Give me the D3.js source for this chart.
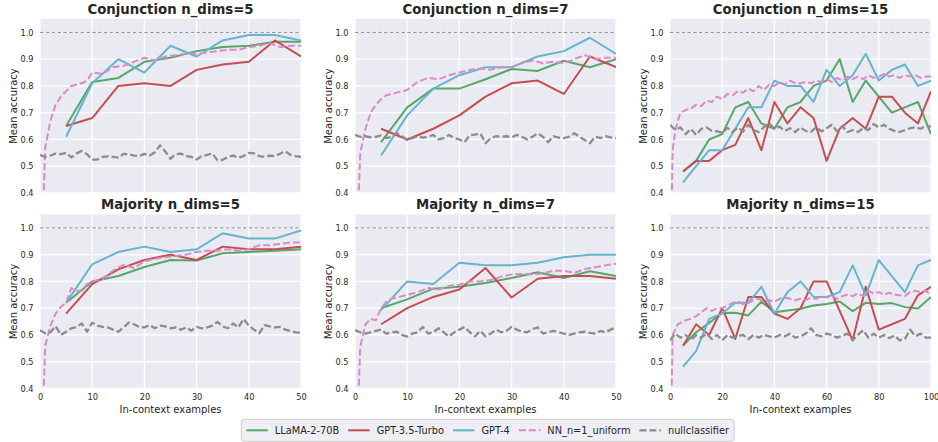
<!DOCTYPE html>
<html>
<head>
<meta charset="utf-8">
<script src="https://cdn.jsdelivr.net/npm/d3@7"></script>
<style>
body { margin: 0; background: #fff; }
text { font-family: "DejaVu Sans", sans-serif; fill: #262626; }
</style>
</head>
<body>
<svg id="chart" width="938" height="442"></svg>
<script>
//## x positions (number of in-context examples)
var shotsX50 = [5, 10, 15, 20, 25, 30, 35, 40, 45, 50];
var shotsX100 = [5, 10, 15, 20, 25, 30, 35, 40, 45, 50, 55, 60, 65, 70, 75, 80, 85, 90, 95, 100];
var nnX50 = [0, 1, 2, 3, 4, 5, 6, 7, 8, 9, 10, 12, 14, 16, 18, 20, 22, 24, 26, 28, 30, 32, 34, 36, 38, 40, 42, 44, 46, 48, 50];
var nnX100 = [0, 1, 2, 3, 4, 6, 8, 10, 12, 14, 16, 18, 20, 22, 24, 26, 28, 30, 32, 34, 36, 38, 40, 42, 44, 46, 48, 50,
    52, 54, 56, 58, 60, 62, 64, 66, 68, 70, 72, 74, 76, 78, 80, 82, 84, 86, 88, 90, 92, 94, 96, 98, 100];
var nullX50 = d3.range(0, 51, 1);
var nullX100 = d3.range(0, 101, 2);

var xTicks50 = [0, 10, 20, 30, 40, 50];
var xTicks100 = [0, 20, 40, 60, 80, 100];
var yTicks = [0.4, 0.5, 0.6, 0.7, 0.8, 0.9, 1.0];

//## Conjunction n_dims=5
var conj5_llama = [0.65, 0.815, 0.83, 0.89, 0.905, 0.93, 0.945, 0.95, 0.965, 0.965];
var conj5_gpt35 = [0.65, 0.68, 0.80, 0.81, 0.80, 0.86, 0.88, 0.89, 0.97, 0.91];
var conj5_gpt4 = [0.61, 0.81, 0.90, 0.85, 0.95, 0.91, 0.97, 0.99, 0.99, 0.97];
var conj5_nn = [0.0, 0.57, 0.67, 0.73, 0.76, 0.78, 0.80, 0.805, 0.81, 0.82, 0.85, 0.845, 0.87, 0.875, 0.89, 0.905,
    0.895, 0.91, 0.915, 0.92, 0.92, 0.925, 0.93, 0.935, 0.935, 0.945, 0.95, 0.96, 0.945, 0.95, 0.95];
var conj5_null = [0.542, 0.535, 0.54, 0.547, 0.545, 0.55, 0.533, 0.548, 0.557, 0.545, 0.525, 0.525, 0.535, 0.537,
    0.535, 0.532, 0.546, 0.545, 0.54, 0.538, 0.546, 0.54, 0.552, 0.578, 0.555, 0.528, 0.545, 0.547, 0.538, 0.535,
    0.525, 0.538, 0.542, 0.548, 0.522, 0.524, 0.535, 0.54, 0.532, 0.538, 0.55, 0.548, 0.538, 0.535, 0.54, 0.537,
    0.547, 0.556, 0.542, 0.538, 0.535];

//## Conjunction n_dims=7
var conj7_llama = [0.59, 0.72, 0.79, 0.79, 0.825, 0.863, 0.856, 0.894, 0.87, 0.90];
var conj7_gpt35 = [0.64, 0.60, 0.64, 0.69, 0.76, 0.81, 0.82, 0.77, 0.91, 0.87];
var conj7_gpt4 = [0.54, 0.69, 0.79, 0.84, 0.87, 0.87, 0.91, 0.93, 0.98, 0.92];
var conj7_nn = [0.0, 0.55, 0.64, 0.70, 0.73, 0.75, 0.765, 0.77, 0.775, 0.78, 0.785, 0.815, 0.83, 0.825, 0.84, 0.85,
    0.86, 0.865, 0.86, 0.87, 0.87, 0.885, 0.895, 0.885, 0.89, 0.885, 0.90, 0.915, 0.90, 0.905, 0.905];
var conj7_null = [0.617, 0.61, 0.612, 0.608, 0.61, 0.615, 0.605, 0.61, 0.623, 0.612, 0.598, 0.605, 0.612, 0.607,
    0.61, 0.617, 0.60, 0.605, 0.617, 0.605, 0.60, 0.59, 0.617, 0.618, 0.623, 0.586, 0.605, 0.612, 0.61, 0.612,
    0.608, 0.617, 0.61, 0.60, 0.61, 0.623, 0.61, 0.59, 0.612, 0.607, 0.605, 0.61, 0.623, 0.61, 0.598, 0.586,
    0.61, 0.605, 0.612, 0.608, 0.605];

//## Conjunction n_dims=15
var conj15_llama = [0.48, 0.52, 0.60, 0.62, 0.72, 0.74, 0.66, 0.64, 0.72, 0.74, 0.80, 0.82, 0.90, 0.74, 0.82,
    0.76, 0.70, 0.72, 0.74, 0.62];
var conj15_gpt35 = [0.48, 0.52, 0.52, 0.56, 0.58, 0.68, 0.56, 0.74, 0.66, 0.72, 0.68, 0.52, 0.64, 0.68, 0.64,
    0.76, 0.76, 0.70, 0.66, 0.78];
var conj15_gpt4 = [0.44, 0.50, 0.56, 0.56, 0.64, 0.72, 0.72, 0.82, 0.80, 0.80, 0.74, 0.86, 0.80, 0.84, 0.92,
    0.82, 0.86, 0.88, 0.80, 0.82];
var conj15_nn = [0.0, 0.56, 0.63, 0.67, 0.70, 0.71, 0.715, 0.73, 0.725, 0.745, 0.74, 0.76, 0.75, 0.77, 0.765, 0.78,
    0.775, 0.79, 0.78, 0.80, 0.785, 0.805, 0.80, 0.815, 0.805, 0.82, 0.81, 0.81, 0.815, 0.81, 0.82, 0.815, 0.825,
    0.815, 0.83, 0.82, 0.835, 0.825, 0.835, 0.825, 0.84, 0.83, 0.835, 0.845, 0.835, 0.84, 0.83, 0.84, 0.835, 0.84,
    0.83, 0.835, 0.835];
var conj15_null = [0.655, 0.636, 0.645, 0.62, 0.64, 0.617, 0.64, 0.645, 0.632, 0.63, 0.625, 0.643, 0.628, 0.645,
    0.63, 0.655, 0.635, 0.628, 0.646, 0.66, 0.64, 0.648, 0.632, 0.642, 0.628, 0.645, 0.632, 0.628, 0.646, 0.63,
    0.642, 0.655, 0.63, 0.65, 0.628, 0.635, 0.628, 0.642, 0.635, 0.658, 0.645, 0.655, 0.64, 0.632, 0.628, 0.635,
    0.642, 0.646, 0.64, 0.65, 0.648];

//## Majority n_dims=5
var maj5_llama = [0.72, 0.80, 0.82, 0.854, 0.88, 0.878, 0.905, 0.91, 0.915, 0.92];
var maj5_gpt35 = [0.68, 0.79, 0.845, 0.88, 0.90, 0.88, 0.93, 0.92, 0.92, 0.93];
var maj5_gpt4 = [0.72, 0.864, 0.91, 0.93, 0.91, 0.92, 0.98, 0.96, 0.96, 0.99];
var maj5_nn = [0.0, 0.56, 0.635, 0.68, 0.705, 0.72, 0.775, 0.765, 0.765, 0.79, 0.80, 0.81, 0.84, 0.862, 0.85,
    0.875, 0.885, 0.89, 0.895, 0.90, 0.91, 0.915, 0.915, 0.92, 0.915, 0.92, 0.935, 0.935, 0.94, 0.946, 0.945];
var maj5_null = [0.618, 0.606, 0.61, 0.633, 0.60, 0.612, 0.625, 0.63, 0.643, 0.612, 0.646, 0.635, 0.63, 0.628,
    0.62, 0.612, 0.628, 0.646, 0.64, 0.63, 0.628, 0.637, 0.625, 0.635, 0.632, 0.625, 0.628, 0.62, 0.628, 0.616,
    0.63, 0.625, 0.628, 0.635, 0.649, 0.632, 0.625, 0.643, 0.628, 0.66, 0.635, 0.62, 0.606, 0.637, 0.632, 0.628,
    0.63, 0.62, 0.615, 0.61, 0.608];

//## Majority n_dims=7
var maj7_llama = [0.70, 0.733, 0.773, 0.78, 0.794, 0.813, 0.834, 0.813, 0.838, 0.82];
var maj7_gpt35 = [0.64, 0.70, 0.742, 0.77, 0.85, 0.74, 0.81, 0.82, 0.82, 0.81];
var maj7_gpt4 = [0.693, 0.80, 0.79, 0.87, 0.86, 0.86, 0.87, 0.89, 0.90, 0.90];
var maj7_nn = [0.0, 0.556, 0.64, 0.66, 0.655, 0.70, 0.725, 0.735, 0.74, 0.745, 0.75, 0.76, 0.775, 0.77, 0.783,
    0.788, 0.80, 0.80, 0.805, 0.818, 0.826, 0.828, 0.826, 0.83, 0.84, 0.84, 0.832, 0.846, 0.853, 0.86, 0.866];
var maj7_null = [0.618, 0.61, 0.605, 0.61, 0.615, 0.62, 0.605, 0.61, 0.612, 0.60, 0.594, 0.605, 0.61, 0.63, 0.605,
    0.61, 0.625, 0.61, 0.594, 0.61, 0.62, 0.63, 0.61, 0.595, 0.615, 0.594, 0.605, 0.62, 0.61, 0.615, 0.63, 0.62,
    0.612, 0.61, 0.622, 0.628, 0.605, 0.61, 0.615, 0.61, 0.605, 0.60, 0.605, 0.61, 0.612, 0.608, 0.605, 0.615,
    0.61, 0.62, 0.628];

//## Majority n_dims=15
var maj15_llama = [0.56, 0.61, 0.645, 0.682, 0.683, 0.673, 0.724, 0.685, 0.691, 0.698, 0.71, 0.716, 0.725,
    0.689, 0.72, 0.716, 0.719, 0.704, 0.699, 0.742];
var maj15_gpt35 = [0.56, 0.64, 0.60, 0.70, 0.585, 0.742, 0.742, 0.68, 0.66, 0.70, 0.80, 0.80, 0.69, 0.58, 0.78,
    0.62, 0.64, 0.66, 0.748, 0.78];
var maj15_gpt4 = [0.482, 0.54, 0.66, 0.68, 0.72, 0.72, 0.78, 0.68, 0.76, 0.80, 0.742, 0.742, 0.76, 0.86, 0.748,
    0.88, 0.82, 0.76, 0.86, 0.88];
var maj15_nn = [0.0, 0.60, 0.62, 0.64, 0.645, 0.655, 0.66, 0.67, 0.685, 0.70, 0.69, 0.70, 0.70, 0.71, 0.72, 0.725,
    0.715, 0.72, 0.73, 0.735, 0.725, 0.73, 0.725, 0.735, 0.74, 0.735, 0.73, 0.735, 0.73, 0.74, 0.735, 0.745, 0.74,
    0.745, 0.735, 0.745, 0.75, 0.745, 0.755, 0.745, 0.765, 0.755, 0.76, 0.75, 0.758, 0.75, 0.748, 0.745, 0.76,
    0.765, 0.76, 0.765, 0.75];
var maj15_null = [0.58, 0.605, 0.59, 0.60, 0.58, 0.60, 0.59, 0.605, 0.585, 0.60, 0.58, 0.60, 0.59, 0.595, 0.60,
    0.585, 0.60, 0.59, 0.60, 0.595, 0.59, 0.60, 0.595, 0.605, 0.59, 0.595, 0.605, 0.625, 0.60, 0.595, 0.605, 0.60,
    0.59, 0.598, 0.605, 0.58, 0.60, 0.618, 0.59, 0.605, 0.59, 0.60, 0.588, 0.598, 0.58, 0.585, 0.62, 0.595, 0.605,
    0.59, 0.59];

var panelTitles = ["Conjunction n_dims=5", "Conjunction n_dims=7", "Conjunction n_dims=15",
    "Majority n_dims=5", "Majority n_dims=7", "Majority n_dims=15"];

var panels = [
    {title: panelTitles[0], xmax: 50, xticks: xTicks50, shots: shotsX50, nnX: nnX50, nullX: nullX50,
        llama: conj5_llama, gpt35: conj5_gpt35, gpt4: conj5_gpt4, nn: conj5_nn, nul: conj5_null},
    {title: panelTitles[1], xmax: 50, xticks: xTicks50, shots: shotsX50, nnX: nnX50, nullX: nullX50,
        llama: conj7_llama, gpt35: conj7_gpt35, gpt4: conj7_gpt4, nn: conj7_nn, nul: conj7_null},
    {title: panelTitles[2], xmax: 100, xticks: xTicks100, shots: shotsX100, nnX: nnX100, nullX: nullX100,
        llama: conj15_llama, gpt35: conj15_gpt35, gpt4: conj15_gpt4, nn: conj15_nn, nul: conj15_null},
    {title: panelTitles[3], xmax: 50, xticks: xTicks50, shots: shotsX50, nnX: nnX50, nullX: nullX50,
        llama: maj5_llama, gpt35: maj5_gpt35, gpt4: maj5_gpt4, nn: maj5_nn, nul: maj5_null},
    {title: panelTitles[4], xmax: 50, xticks: xTicks50, shots: shotsX50, nnX: nnX50, nullX: nullX50,
        llama: maj7_llama, gpt35: maj7_gpt35, gpt4: maj7_gpt4, nn: maj7_nn, nul: maj7_null},
    {title: panelTitles[5], xmax: 100, xticks: xTicks100, shots: shotsX100, nnX: nnX100, nullX: nullX100,
        llama: maj15_llama, gpt35: maj15_gpt35, gpt4: maj15_gpt4, nn: maj15_nn, nul: maj15_null}
];

//## series styles (legend order = draw order)
var series = [
    {key: 'llama', name: 'LLaMA-2-70B', color: '#55A868', dash: null, width: 2, xs: 'shots'},
    {key: 'gpt35', name: 'GPT-3.5-Turbo', color: '#C44E52', dash: null, width: 2, xs: 'shots'},
    {key: 'gpt4', name: 'GPT-4', color: '#64B5CD', dash: null, width: 2, xs: 'shots'},
    {key: 'nn', name: 'NN_n=1_uniform', color: '#DA8BC3', dash: '7,3', width: 2, xs: 'nnX'},
    {key: 'nul', name: 'nullclassifier', color: '#8C8C8C', dash: '7,3', width: 2.3, xs: 'nullX'}
];

var svg = d3.select("#chart");
svg.append("rect").attr("width", 938).attr("height", 442).attr("fill", "#ffffff");

var panelLeft = [40, 355, 670];
var rowTop = [19, 214.5];
var plotW = 261, plotH = 174;

panels.forEach(function (p, k) {
    var col = k % 3, row = Math.floor(k / 3);
    var g = svg.append("g")
        .attr("transform", "translate(" + panelLeft[col] + "," + rowTop[row] + ")");

    var x = d3.scaleLinear().domain([0, p.xmax]).range([0, plotW]);
    var y = d3.scaleLinear().domain([0.4, 1.05]).range([plotH, 0]);

    g.append("rect")
        .attr("width", plotW)
        .attr("height", plotH)
        .attr("fill", "#EAEAF2");

    //## white grid
    g.selectAll(".gx").data(p.xticks).enter().append("line")
        .attr("x1", function (d) { return x(d); })
        .attr("x2", function (d) { return x(d); })
        .attr("y1", 0).attr("y2", plotH)
        .attr("stroke", "#ffffff").attr("stroke-width", 1.3);
    g.selectAll(".gy").data(yTicks).enter().append("line")
        .attr("y1", function (d) { return y(d); })
        .attr("y2", function (d) { return y(d); })
        .attr("x1", 0).attr("x2", plotW)
        .attr("stroke", "#ffffff").attr("stroke-width", 1.3);

    //## axes (labels only)
    var ya = g.append("g")
        .call(d3.axisLeft(y).tickValues(yTicks).tickSize(0).tickPadding(6.5).tickFormat(d3.format(".1f")));
    ya.select(".domain").remove();
    ya.selectAll("text").attr("font-size", "8.2px").attr("fill", "#333333")
        .style("font-family", '"DejaVu Sans", sans-serif');

    if (row == 1) {
        var xa = g.append("g")
            .attr("transform", "translate(0," + plotH + ")")
            .call(d3.axisBottom(x).tickValues(p.xticks).tickSize(0).tickPadding(5.6));
        xa.select(".domain").remove();
        xa.selectAll("text").attr("font-size", "8.2px").attr("fill", "#333333")
            .style("font-family", '"DejaVu Sans", sans-serif');

        g.append("text")
            .attr("x", plotW / 2)
            .attr("y", plotH + 24)
            .attr("text-anchor", "middle")
            .attr("font-size", "10px")
            .text("In-context examples");
    }

    g.append("text")
        .attr("transform", "translate(-22.7," + (plotH / 2) + ") rotate(-90)")
        .attr("text-anchor", "middle")
        .attr("font-size", "10px")
        .text("Mean accuracy");

    g.append("text")
        .attr("x", plotW / 2)
        .attr("y", -5.2)
        .attr("text-anchor", "middle")
        .attr("font-size", "13.3px")
        .attr("font-weight", "bold")
        .text(p.title);

    //## clip to plot area
    g.append("clipPath").attr("id", "clip" + k)
        .append("rect").attr("width", plotW).attr("height", plotH);
    var lines = g.append("g").attr("clip-path", "url(#clip" + k + ")");

    //## perfect accuracy reference
    lines.append("line")
        .attr("x1", 0).attr("x2", plotW)
        .attr("y1", y(1.0)).attr("y2", y(1.0))
        .attr("stroke", "#8a8a8a").attr("stroke-width", 1)
        .attr("stroke-dasharray", "3.6,2.2");

    var line = d3.line()
        .x(function (d) { return x(d[0]); })
        .y(function (d) { return y(d[1]); });

    series.forEach(function (s) {
        var pts = d3.zip(p[s.xs], p[s.key]);
        lines.append("path")
            .attr("d", line(pts))
            .attr("fill", "none")
            .attr("stroke", s.color)
            .attr("stroke-width", s.width)
            .attr("stroke-linejoin", "round")
            .attr("stroke-dasharray", s.dash);
    });
});

//## legend
var legendY = 430.3;
var handleLen = 21.5, handlePad = 7, colSpace = 9;
var leg = svg.append("g");
var legBox = leg.append("rect");
var cx = 0;
var offsets = [];
var items = [];
series.forEach(function (s) {
    var it = leg.append("g");
    it.append("line")
        .attr("x1", 0).attr("x2", handleLen)
        .attr("y1", legendY).attr("y2", legendY)
        .attr("stroke", s.color).attr("stroke-width", s.width)
        .attr("stroke-dasharray", s.dash);
    var t = it.append("text")
        .attr("x", handleLen + handlePad)
        .attr("y", legendY + 3.5)
        .attr("font-size", "9.8px")
        .text(s.name);
    offsets.push(cx);
    items.push(it);
    cx += handleLen + handlePad + t.node().getComputedTextLength() + colSpace;
});
var legW = cx - colSpace;
var legLeft = 487.7 - legW / 2;
items.forEach(function (it, i) {
    it.attr("transform", "translate(" + (offsets[i] + legLeft) + ",0)");
});
legBox
    .attr("x", legLeft - 5)
    .attr("y", legendY - 11)
    .attr("width", legW + 10)
    .attr("height", 22)
    .attr("rx", 3)
    .attr("fill", "#EEEEF4")
    .attr("stroke", "#CCCCCC")
    .attr("stroke-width", 1);
</script>
</body>
</html>
